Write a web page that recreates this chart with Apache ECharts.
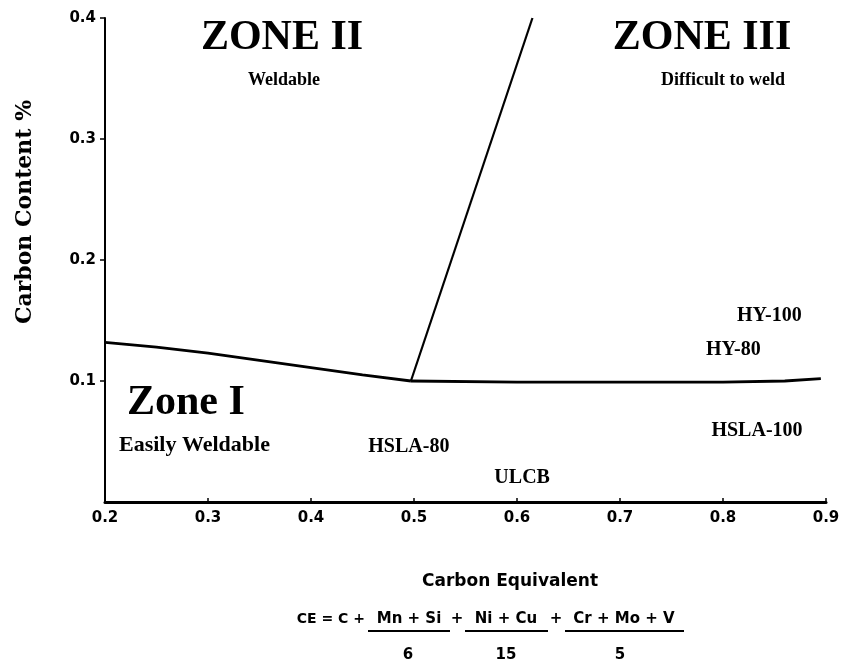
<!DOCTYPE html>
<html>
<head>
<meta charset="utf-8">
<script src="https://cdn.jsdelivr.net/npm/echarts@6/dist/echarts.min.js"></script>
<style>html,body{margin:0;padding:0;background:#fff;}#c{width:852px;height:672px;}</style>
</head>
<body>
<div id="c"></div>
<script>
// Boundary between Zone I and Zone II
const boundaryI_II = [[0.2, 0.132], [0.25, 0.128], [0.3, 0.123], [0.35, 0.117], [0.4, 0.111], [0.45, 0.105], [0.497, 0.100]];
// Boundary between Zone I and Zone III
const boundaryI_III = [[0.497, 0.100], [0.6, 0.099], [0.7, 0.099], [0.8, 0.099], [0.86, 0.100], [0.895, 0.102]];
// Boundary between Zone II and Zone III
const boundaryII_III = [[0.497, 0.100], [0.615, 0.400]];
// Steel grades
const steelNames = ['HSLA-80', 'ULCB', 'HSLA-100', 'HY-100', 'HY-80'];
const steelCE = [0.495, 0.605, 0.833, 0.845, 0.81];
const steelC = [0.046, 0.02, 0.059, 0.154, 0.126];
const xTicks = ['0.2', '0.3', '0.4', '0.5', '0.6', '0.7', '0.8', '0.9'];
const yTicks = ['', '0.1', '0.2', '0.3', '0.4'];

const chart = echarts.init(document.getElementById('c'));
const lineStyle = {color: '#000', width: 2.8};
const serif = '"Liberation Serif", "DejaVu Serif", serif';
const wideSerif = '"DejaVu Serif", "Liberation Serif", serif';
const sans = '"DejaVu Sans", "Liberation Sans", sans-serif';
const fml = 'bold 15px ' + sans;

chart.setOption({
  animation: false,
  backgroundColor: '#fff',
  grid: {left: 105, right: 26, top: 18, bottom: 170},
  xAxis: {
    type: 'value', min: 0.2, max: 0.9, interval: 0.1,
    axisLine: {lineStyle: {color: '#000', width: 3}},
    axisTick: {inside: true, length: 4, lineStyle: {color: '#000', width: 1.5}},
    splitLine: {show: false},
    axisLabel: {
      margin: 9, color: '#000', fontFamily: sans, fontWeight: 'bold', fontSize: 15,
      formatter: v => xTicks[Math.round((v - 0.2) * 10)]
    }
  },
  yAxis: {
    type: 'value', min: 0, max: 0.4, interval: 0.1,
    axisLine: {show: true, lineStyle: {color: '#000', width: 2}},
    axisTick: {show: true, length: 5, customValues: [0.1, 0.2, 0.3, 0.4], lineStyle: {color: '#000', width: 1.5}},
    splitLine: {show: false},
    axisLabel: {
      margin: 9, color: '#000', fontFamily: sans, fontWeight: 'bold', fontSize: 15,
      formatter: v => yTicks[Math.round(v * 10)]
    }
  },
  series: [
    {type: 'line', data: boundaryI_II, symbol: 'none', lineStyle: lineStyle},
    {type: 'line', data: boundaryI_III, symbol: 'none', lineStyle: lineStyle},
    {type: 'line', data: boundaryII_III, symbol: 'none', lineStyle: {color: '#000', width: 2.2}},
    {
      type: 'scatter', symbolSize: 0, itemStyle: {opacity: 1, color: '#000'},
      data: steelNames.map((n, i) => ({name: n, value: [steelCE[i], steelC[i]]})),
      label: {
        show: true, position: 'inside', formatter: p => p.name, color: '#000',
        textBorderWidth: 0, fontFamily: serif, fontWeight: 'bold', fontSize: 20
      }
    }
  ],
  graphic: [
    {type: 'text', x: 25, y: 212, rotation: Math.PI / 2, style: {text: 'Carbon Content %', font: 'bold 22px ' + wideSerif, fill: '#000', align: 'center', verticalAlign: 'middle'}},
    {type: 'text', x: 510, y: 582, style: {text: 'Carbon Equivalent', font: 'bold 17px ' + sans, fill: '#000', align: 'center', verticalAlign: 'middle'}},
    {type: 'text', x: 282, y: 38, style: {text: 'ZONE II', font: 'bold 42px ' + serif, fill: '#000', align: 'center', verticalAlign: 'middle'}},
    {type: 'text', x: 284, y: 80, style: {text: 'Weldable', font: 'bold 18px ' + serif, fill: '#000', align: 'center', verticalAlign: 'middle'}},
    {type: 'text', x: 702, y: 38, style: {text: 'ZONE III', font: 'bold 42px ' + serif, fill: '#000', align: 'center', verticalAlign: 'middle'}},
    {type: 'text', x: 723, y: 80, style: {text: 'Difficult to weld', font: 'bold 18px ' + serif, fill: '#000', align: 'center', verticalAlign: 'middle'}},
    {type: 'text', x: 127, y: 403, style: {text: 'Zone I', font: 'bold 42px ' + serif, fill: '#000', align: 'left', verticalAlign: 'middle'}},
    {type: 'text', x: 119, y: 445, style: {text: 'Easily Weldable', font: 'bold 22px ' + serif, fill: '#000', align: 'left', verticalAlign: 'middle'}},
    {type: 'text', x: 365, y: 619, style: {text: 'CE = C +', font: 'bold 14px ' + sans, fill: '#000', align: 'right', verticalAlign: 'middle'}},
    {type: 'text', x: 409, y: 619, style: {text: 'Mn + Si', font: fml, fill: '#000', align: 'center', verticalAlign: 'middle'}},
    {type: 'text', x: 457, y: 619, style: {text: '+', font: fml, fill: '#000', align: 'center', verticalAlign: 'middle'}},
    {type: 'text', x: 506, y: 619, style: {text: 'Ni + Cu', font: fml, fill: '#000', align: 'center', verticalAlign: 'middle'}},
    {type: 'text', x: 556, y: 619, style: {text: '+', font: fml, fill: '#000', align: 'center', verticalAlign: 'middle'}},
    {type: 'text', x: 624, y: 619, style: {text: 'Cr + Mo + V', font: fml, fill: '#000', align: 'center', verticalAlign: 'middle'}},
    {type: 'line', shape: {x1: 368, y1: 631, x2: 450, y2: 631}, style: {stroke: '#000', lineWidth: 2}},
    {type: 'line', shape: {x1: 465, y1: 631, x2: 548, y2: 631}, style: {stroke: '#000', lineWidth: 2}},
    {type: 'line', shape: {x1: 565, y1: 631, x2: 684, y2: 631}, style: {stroke: '#000', lineWidth: 2}},
    {type: 'text', x: 408, y: 655, style: {text: '6', font: fml, fill: '#000', align: 'center', verticalAlign: 'middle'}},
    {type: 'text', x: 506, y: 655, style: {text: '15', font: fml, fill: '#000', align: 'center', verticalAlign: 'middle'}},
    {type: 'text', x: 620, y: 655, style: {text: '5', font: fml, fill: '#000', align: 'center', verticalAlign: 'middle'}}
  ]
});
</script>
</body>
</html>
